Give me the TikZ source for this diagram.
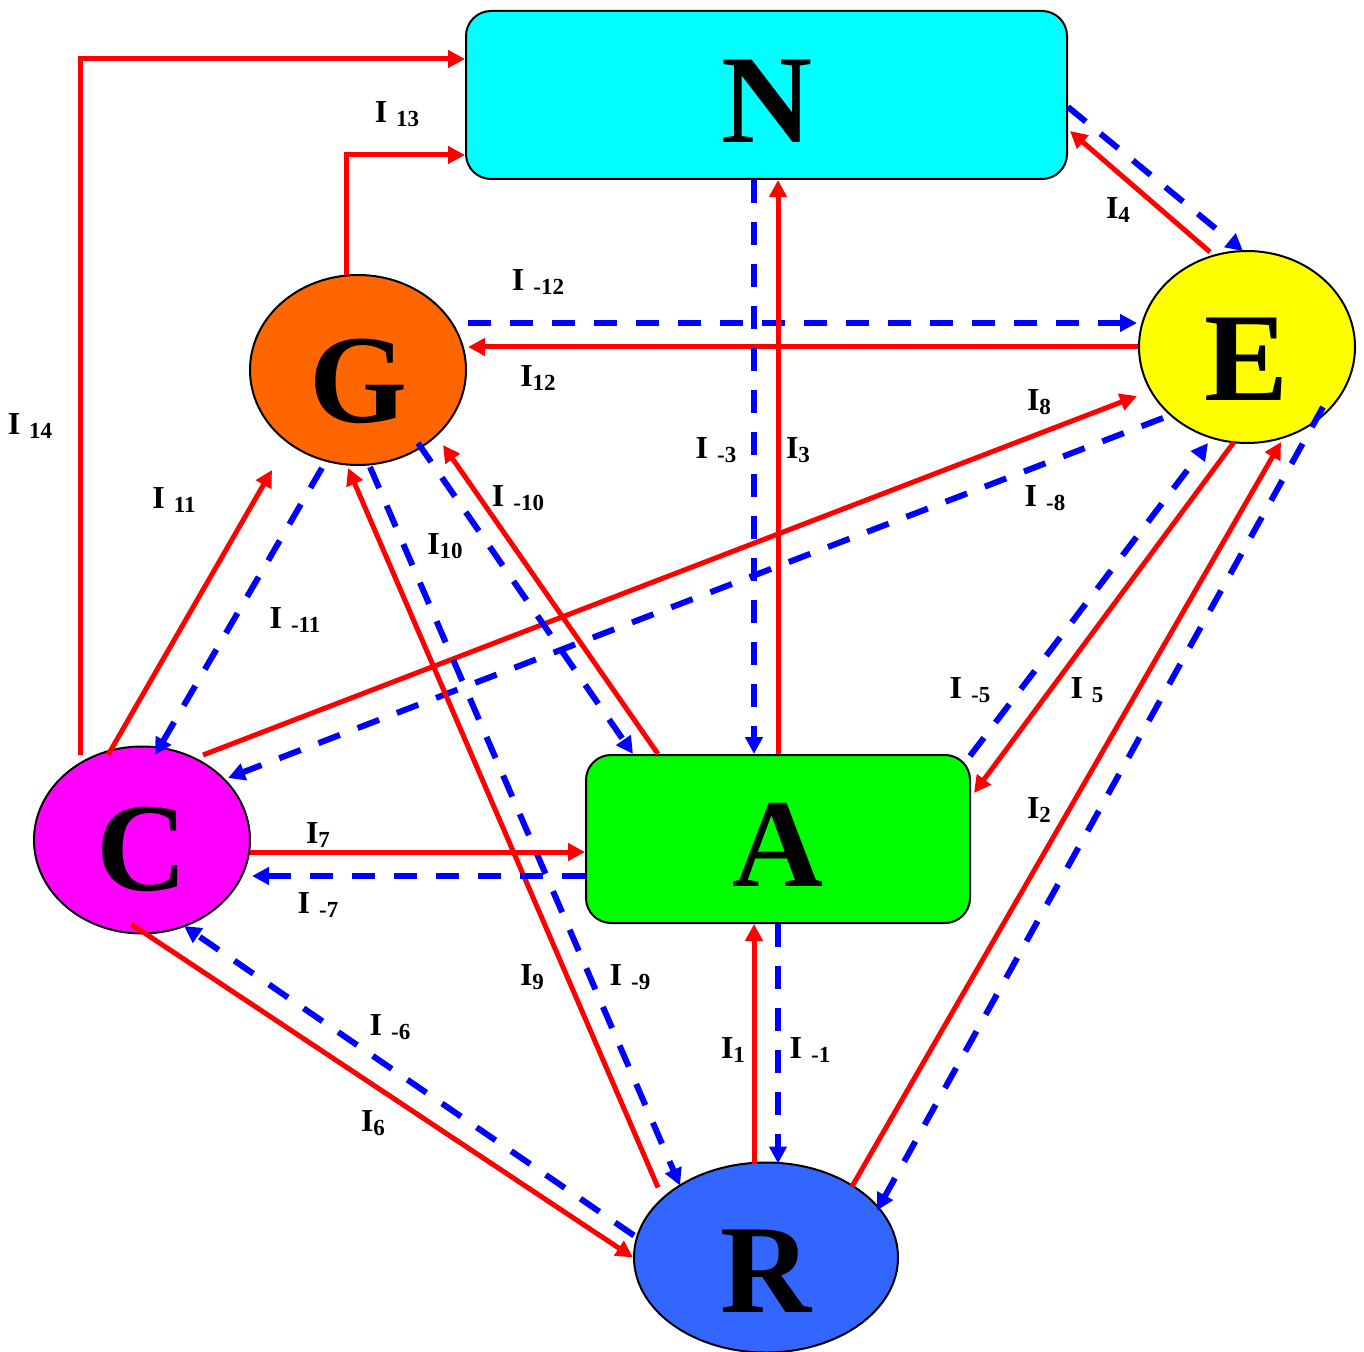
\documentclass[tikz,border=0pt]{standalone}
\usepackage{fontspec}
\setmainfont{Liberation Serif}
\usetikzlibrary{arrows.meta,calc,shapes.geometric}
\definecolor{ncyan}{HTML}{00FFFF}
\definecolor{agreen}{HTML}{00FF00}
\definecolor{eyellow}{HTML}{FFFF00}
\definecolor{gorange}{HTML}{FF6600}
\definecolor{cmagenta}{HTML}{FF00FF}
\definecolor{rblue}{HTML}{3366FF}
\definecolor{fred}{HTML}{FF0000}
\definecolor{bblue}{HTML}{0000FF}
\newcommand{\BigL}[2]{\raisebox{\dimexpr-20.7pt-#1\relax}[0pt][0pt]{#2}}
\newcommand{\Ilab}[2]{I\hspace{#1}\raisebox{-2pt}{\fontsize{11.5}{12}\selectfont #2}}
\tikzset{
  boxnode/.style={draw=black, line width=1pt, rounded corners=12.5pt, inner sep=0pt,
    font=\bfseries\fontsize{63}{63}\selectfont},
  ellnode/.style={ellipse, draw=black, line width=1pt, inner sep=0pt,
    font=\bfseries\fontsize{63}{63}\selectfont},
  fwd/.style={draw=fred, line width=2.5pt, -{Triangle[length=8.5pt,width=8.5pt]}},
  bwd/.style={draw=bblue, line width=3pt, dash pattern=on 11.5pt off 9.5pt,
    -{Triangle[length=8.5pt,width=8.5pt]}},
  lab/.style={font=\bfseries\fontsize{16}{16}\selectfont, inner sep=0pt}
}
\begin{document}
\begin{tikzpicture}[x=0.5pt,y=-0.5pt]
\useasboundingbox (0,0) rectangle (1364,1352);
% nodes
\node[boxnode, fill=ncyan, minimum width=300.5pt, minimum height=84pt] (N) at (766.5,95) {\BigL{3pt}{N}};
\node[boxnode, fill=agreen, minimum width=192pt, minimum height=84pt] (A) at (778,839) {\BigL{3pt}{A}};
\node[ellnode, fill=eyellow, minimum width=108pt, minimum height=96pt] (E) at (1247,347) {\BigL{6pt}{E}};
\node[ellnode, fill=gorange, minimum width=108pt, minimum height=95pt] (G) at (358,370) {\BigL{5.5pt}{G}};
\node[ellnode, fill=cmagenta, minimum width=108pt, minimum height=93.5pt] (C) at (142,840) {\BigL{4.5pt}{C}};
\node[ellnode, fill=rblue, minimum width=132pt, minimum height=95pt] (R) at (766,1257.5) {\BigL{7pt}{R}};
% I14, I13
\draw[fwd] ($(C.center)+(-62,-85)$) |- ($(N.west)+(0,-36)$);
\draw[fwd] ($(G.center)+(-12,-95)$) |- ($(N.west)+(0,60)$);
% N-E
\draw[bwd] ($(N.east)+(0,12)$) -- ($(E.center)+(-4,-96)$);
\draw[fwd] ($(E.center)+(-37,-95)$) -- ($(N.east)+(2,36)$);
% G-E
\draw[bwd] ($(G.center)+(110,-47)$) -- ($(E.center)+(-110,-24)$);
\draw[fwd] (E.west) -- ($(G.center)+(110,-23)$);
% N-A
\draw[bwd] ($(N.south)+(-12.5,0)$) -- ($(A.north)+(-24,0)$);
\draw[fwd] (A.north) -- ($(N.south)+(11.5,0)$);
% C-E
\draw[fwd] ($(C.center)+(61,-85)$) -- ($(E.center)+(-110,49)$);
\draw[bwd] ($(E.center)+(-84,71)$) -- ($(C.center)+(86,-62)$);
% E-A
\draw[fwd] ($(E.center)+(-13,95)$) -- ($(A.east)+(3,-46)$);
\draw[bwd] ($(A.east)+(-1,-83)$) -- ($(E.center)+(-39,96)$);
% R-E
\draw[fwd] ($(R.center)+(86,-71)$) -- ($(E.center)+(34,95)$);
\draw[bwd] ($(E.center)+(76,60)$) -- ($(R.center)+(111,-47)$);
% C-G
\draw[fwd] ($(C.center)+(-34,-85)$) -- ($(G.center)+(-86,100)$);
\draw[bwd] ($(G.center)+(-36,98)$) -- ($(C.center)+(13,-85)$);
% G-A
\draw[bwd] ($(G.center)+(60,73)$) -- ($(A.north)+(-145,0)$);
\draw[fwd] ($(A.north)+(-120,0)$) -- ($(G.center)+(85,75)$);
% G-R
\draw[fwd] ($(R.center)+(-108,-70)$) -- ($(G.center)+(-10,98)$);
\draw[bwd] ($(G.center)+(12,97)$) -- ($(R.center)+(-86,-72)$);
% C-A
\draw[fwd] ($(C.center)+(108,12)$) -- ($(A.west)+(0,13)$);
\draw[bwd] ($(A.west)+(0,37)$) -- ($(C.center)+(110,36)$);
% C-R
\draw[fwd] ($(C.center)+(-11,84)$) -- (R.west);
\draw[bwd] ($(R.center)+(-132,-22)$) -- ($(C.center)+(42,86)$);
% A-R
\draw[fwd] ($(R.center)+(-12,-94)$) -- ($(A.south)+(-24,0)$);
\draw[bwd] (A.south) -- ($(R.center)+(12,-94)$);
% labels
\node[lab] (l13) at (397,114) {\Ilab{4.5pt}{13}};
\node[lab] (l14) at (30,426) {\Ilab{4.5pt}{14}};
\node[lab] (lm12) at (538,282) {\Ilab{4.5pt}{-12}};
\node[lab] (l12) at (538,378) {\Ilab{0pt}{12}};
\node[lab] (l4) at (1118,210) {\Ilab{0pt}{4}};
\node[lab] (l8) at (1039,402) {\Ilab{0pt}{8}};
\node[lab] (lm8) at (1045,498) {\Ilab{4.5pt}{-8}};
\node[lab] (lm3) at (716,450) {\Ilab{4.5pt}{-3}};
\node[lab] (l3) at (798,450) {\Ilab{0pt}{3}};
\node[lab] (l11) at (174,500) {\Ilab{4.5pt}{11}};
\node[lab] (lm10) at (518,498) {\Ilab{4.5pt}{-10}};
\node[lab] (l10) at (445,546) {\Ilab{0pt}{10}};
\node[lab] (lm11) at (295,620) {\Ilab{4.5pt}{-11}};
\node[lab] (lm5) at (970,690) {\Ilab{4.5pt}{-5}};
\node[lab] (l5) at (1087,690) {\Ilab{4.5pt}{5}};
\node[lab] (l2) at (1039,810) {\Ilab{0pt}{2}};
\node[lab] (l7) at (318,835) {\Ilab{0pt}{7}};
\node[lab] (lm7) at (318,905) {\Ilab{4.5pt}{-7}};
\node[lab] (l9) at (532,977) {\Ilab{0pt}{9}};
\node[lab] (lm9) at (630,977) {\Ilab{4.5pt}{-9}};
\node[lab] (lm6) at (390,1027) {\Ilab{4.5pt}{-6}};
\node[lab] (l6) at (373,1123) {\Ilab{0pt}{6}};
\node[lab] (l1) at (733,1050) {\Ilab{0pt}{1}};
\node[lab] (lm1) at (810,1050) {\Ilab{4.5pt}{-1}};
\end{tikzpicture}
\end{document}
